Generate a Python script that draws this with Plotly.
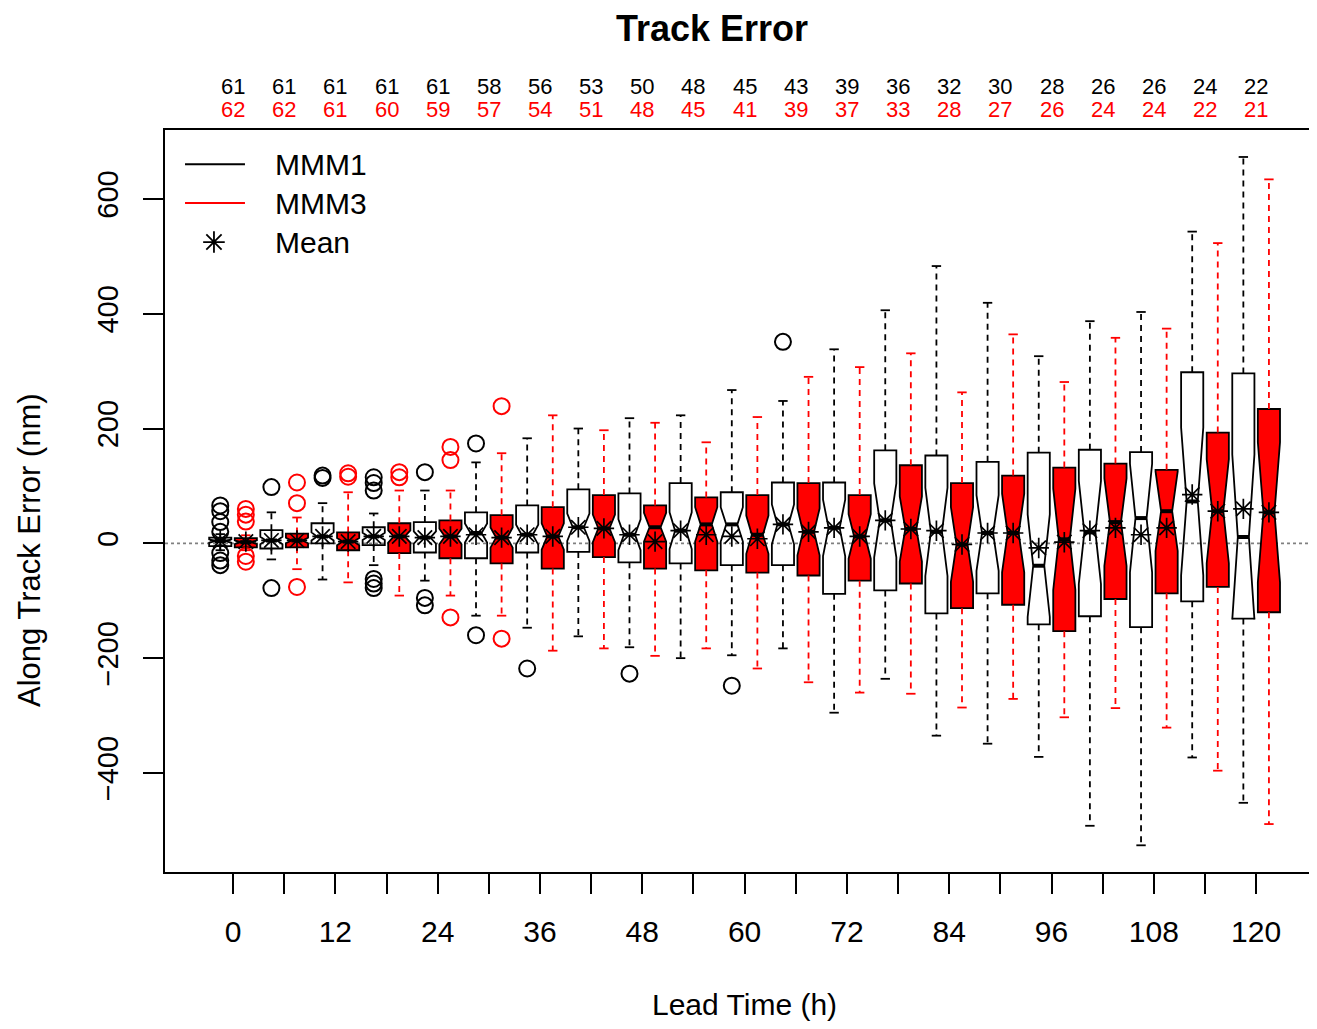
import numpy as np
import plotly.graph_objects as go

# ---------------- data ----------------
lead = [0, 6, 12, 18, 24, 30, 36, 42, 48, 54, 60, 66, 72, 78, 84, 90, 96, 102, 108, 114, 120]
n1 = [61, 61, 61, 61, 61, 58, 56, 53, 50, 48, 45, 43, 39, 36, 32, 30, 28, 26, 26, 24, 22]
n3 = [62, 62, 61, 60, 59, 57, 54, 51, 48, 45, 41, 39, 37, 33, 28, 27, 26, 24, 24, 22, 21]

# MMM1 (black / open boxes)
q1_1 = [-5, -9, 0, -3, -16, -26, -16, -15, -33, -35, -38, -38, -88, -82, -122, -87, -141, -127, -146, -101, -131]
med_1 = [4, 5, 12, 12, 10, 18, 15, 28, 15, 22, 33, 33, 27, 40, 20, 18, -39, 19, 44, 73, 11]
q3_1 = [10, 23, 35, 28, 37, 54, 66, 94, 87, 105, 89, 106, 106, 162, 153, 142, 158, 163, 159, 298, 296]
lo_1 = [-12, -28, -63, -38, -65, -126, -147, -162, -181, -200, -195, -183, -295, -236, -335, -349, -372, -492, -526, -373, -452]
hi_1 = [16, 54, 70, 52, 92, 141, 183, 200, 218, 223, 267, 248, 338, 406, 483, 419, 326, 387, 403, 543, 673]
mean_1 = [5, 5, 12, 12, 10, 15, 15, 28, 15, 22, 12, 33, 27, 40, 22, 18, -8, 22, 15, 85, 60]
out1_lead = [0, 0, 0, 0, 0, 0, 0, 6, 6, 12, 12, 18, 18, 18, 18, 18, 18, 24, 24, 24, 30, 30, 36, 48, 60, 66]
out1_val = [66, 56, 37, 20, -17, -30, -38, 98, -78, 118, 114, 115, 105, 92, -62, -70, -78, 124, -95, -108, 174, -160, -218, -227, -248, 351]

# MMM3 (red boxes)
q1_3 = [-7, -7, -12, -17, -26, -35, -44, -24, -44, -47, -51, -56, -65, -70, -113, -107, -153, -97, -87, -76, -120]
med_3 = [2, 5, 3, 12, 12, 10, 12, 26, 28, 33, 15, 20, 12, 25, -2, 18, 7, 37, 56, 56, 54]
q3_3 = [9, 17, 19, 35, 40, 49, 63, 84, 66, 80, 84, 105, 84, 136, 105, 118, 132, 139, 128, 193, 234]
lo_3 = [-12, -45, -68, -91, -91, -126, -187, -183, -196, -183, -218, -242, -260, -262, -286, -271, -303, -287, -321, -396, -489]
hi_3 = [14, 45, 89, 92, 92, 157, 223, 197, 210, 176, 220, 290, 307, 331, 263, 364, 281, 358, 374, 523, 634]
mean_3 = [3, 5, 3, 12, 12, 10, 12, 26, 3, 15, 8, 20, 12, 25, -2, 18, 2, 27, 27, 56, 54]
out3_lead = [0, 0, 0, 0, 0, 6, 6, 6, 12, 12, 18, 18, 24, 24, 24, 30, 30]
out3_val = [60, 50, 38, -22, -32, 106, 70, -76, 122, 116, 124, 115, 168, 145, -129, 239, -166]

yticks = [-400, -200, 0, 200, 400, 600]

# ---------------- styling / layout constants ----------------
FONT = "Liberation Sans, Arial, Helvetica, sans-serif"
OFF = 1.5      # box offset from lead time (h)
BW = 2.6       # box width (h)
XR = [-7.98, 126.2]
YR = [-572.5, 720.0]
RED = "#FF0000"
DASH = "6px,5px"

fig = go.Figure()


def notch(q1, q3, n):
    return [1.58 * (b - a) / np.sqrt(k) for a, b, k in zip(q1, q3, n)]


def add_series(off, q1, med, q3, lo, hi, mean, n, olead, oval, fill, wcol):
    xs = [t + off for t in lead]
    # dashed whiskers
    wx, wy = [], []
    for x, a, b, l, h in zip(xs, q1, q3, lo, hi):
        wx += [x, x, None, x, x, None]
        wy += [b, h, None, a, l, None]
    fig.add_trace(go.Scatter(x=wx, y=wy, mode="lines", line=dict(color=wcol, width=1.8, dash=DASH),
                             showlegend=False, hoverinfo="skip"))
    # staples
    sx, sy = [], []
    for x, l, h in zip(xs, lo, hi):
        sx += [x - 0.55, x + 0.55, None, x - 0.55, x + 0.55, None]
        sy += [h, h, None, l, l, None]
    fig.add_trace(go.Scatter(x=sx, y=sy, mode="lines", line=dict(color=wcol, width=1.8),
                             showlegend=False, hoverinfo="skip"))
    # notched boxes
    fig.add_trace(go.Box(x=xs, q1=q1, median=med, q3=q3, lowerfence=q1, upperfence=q3,
                         notched=True, notchspan=notch(q1, q3, n), notchwidth=0.25,
                         width=BW, fillcolor=fill, line=dict(color="black", width=1.8),
                         boxpoints=False, whiskerwidth=0, showlegend=False, hoverinfo="skip"))
    # thick medians
    mx, my = [], []
    for x, m in zip(xs, med):
        mx += [x - BW / 4, x + BW / 4, None]
        my += [m, m, None]
    fig.add_trace(go.Scatter(x=mx, y=my, mode="lines", line=dict(color="black", width=4),
                             showlegend=False, hoverinfo="skip"))
    # outliers
    fig.add_trace(go.Scatter(x=[t + off for t in olead], y=oval, mode="markers",
                             marker=dict(symbol="circle-open", size=16, color=wcol, line=dict(width=2)),
                             showlegend=False, hoverinfo="skip"))
    # means
    fig.add_trace(go.Scatter(x=xs, y=mean, mode="markers",
                             marker=dict(symbol="asterisk-open", size=17, color="black", line=dict(width=1.7, color="black")),
                             showlegend=False, hoverinfo="skip"))


add_series(-OFF, q1_1, med_1, q3_1, lo_1, hi_1, mean_1, n1, out1_lead, out1_val, "rgba(0,0,0,0)", "black")
add_series(+OFF, q1_3, med_3, q3_3, lo_3, hi_3, mean_3, n3, out3_lead, out3_val, RED, RED)

# legend (manual, R style)
def dom_x(f):
    return XR[0] + f * (XR[1] - XR[0])


def dom_y(f):
    return YR[0] + f * (YR[1] - YR[0])


shapes = [
    dict(type="line", xref="paper", yref="y", x0=0, x1=1, y0=0, y1=0,
         line=dict(color="#808080", width=1.8, dash="dot"), layer="below"),
    dict(type="line", xref="paper", yref="paper", x0=0.0175, x1=0.0699, y0=0.954, y1=0.954,
         line=dict(color="black", width=2)),
    dict(type="line", xref="paper", yref="paper", x0=0.0175, x1=0.0699, y0=0.9016, y1=0.9016,
         line=dict(color=RED, width=2)),
]
fig.add_trace(go.Scatter(x=[dom_x(0.0428)], y=[dom_y(0.849)], mode="markers",
                         marker=dict(symbol="asterisk-open", size=18, color="black", line=dict(width=1.8, color="black")),
                         showlegend=False, hoverinfo="skip", cliponaxis=False))

ann = []
for txt, yy in [("MMM1", 0.954), ("MMM3", 0.9016), ("Mean", 0.849)]:
    ann.append(dict(text=txt, xref="paper", yref="paper", x=0.0944, y=yy, xanchor="left", yanchor="middle",
                    showarrow=False, font=dict(family=FONT, size=30, color="black")))

# sample counts above plot
for t, a, b in zip(lead, n1, n3):
    ann.append(dict(text=str(a), xref="x", yref="paper", x=t, y=1, yshift=44, xanchor="center", yanchor="middle",
                    showarrow=False, font=dict(family=FONT, size=22, color="black")))
    ann.append(dict(text=str(b), xref="x", yref="paper", x=t, y=1, yshift=21, xanchor="center", yanchor="middle",
                    showarrow=False, font=dict(family=FONT, size=22, color=RED)))

# titles
ann.append(dict(text="<b>Track Error</b>", xref="paper", yref="paper", x=0.478, y=1, yshift=102,
                xanchor="center", yanchor="middle", showarrow=False, font=dict(family=FONT, size=36, color="black")))
ann.append(dict(text="Lead Time (h)", xref="x", yref="paper", x=60, y=0, yshift=-132,
                xanchor="center", yanchor="middle", showarrow=False, font=dict(family=FONT, size=30, color="black")))
ann.append(dict(text="Along Track Error (nm)", xref="paper", yref="paper", x=0, xshift=-135, y=0.434,
                xanchor="center", yanchor="middle", textangle=-90, showarrow=False,
                font=dict(family=FONT, size=31, color="black")))

fig.update_layout(
    width=1301, height=1013,
    margin=dict(l=157, r=0, t=122, b=149),
    paper_bgcolor="white", plot_bgcolor="white",
    font=dict(family=FONT, color="black"),
    shapes=shapes, annotations=ann, showlegend=False,
    boxmode="overlay",
)
fig.update_xaxes(range=XR, tickvals=lead, ticktext=[str(t) if t % 12 == 0 else "" for t in lead],
                 ticks="outside", ticklen=20, tickwidth=1.8, tickcolor="black",
                 showline=True, linecolor="black", linewidth=1.8, mirror=True,
                 showgrid=False, zeroline=False, tickfont=dict(family=FONT, size=30, color="black"),
                 ticklabelstandoff=12)
fig.update_yaxes(range=YR, tickvals=yticks, ticktext=[str(v).replace("-", "\u2212") for v in yticks],
                 tickangle=-90,
                 ticks="outside", ticklen=20, tickwidth=1.8, tickcolor="black",
                 showline=True, linecolor="black", linewidth=1.8, mirror=False,
                 showgrid=False, zeroline=False, tickfont=dict(family=FONT, size=29, color="black"),
                 ticklabelstandoff=14)

fig.write_html("out.html")
